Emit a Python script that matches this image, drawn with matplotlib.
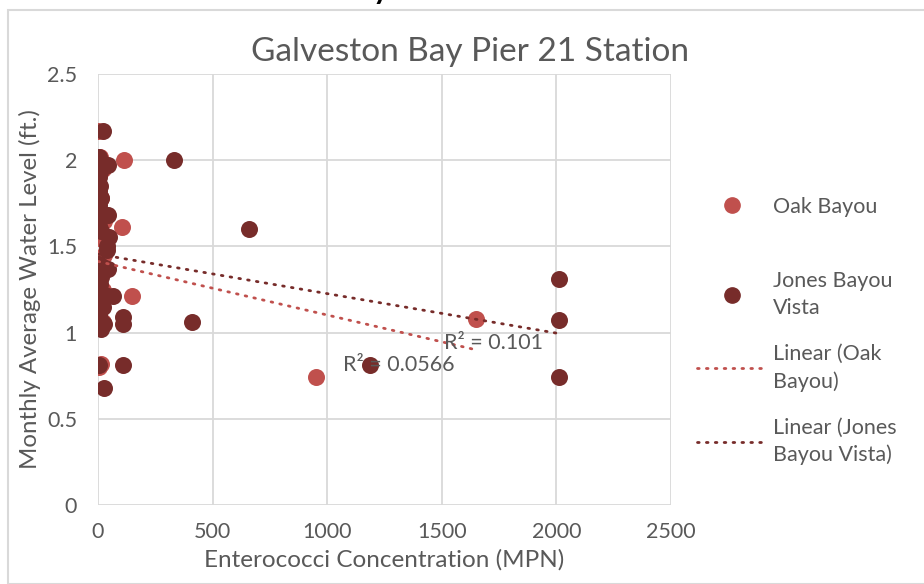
import matplotlib
matplotlib.use("Agg")
import matplotlib.pyplot as plt
from matplotlib.lines import Line2D
from matplotlib.patches import Rectangle
import numpy as np

plt.rcParams['font.family'] = ['Lato', 'DejaVu Sans']

title = "Galveston Bay Pier 21 Station"
x_label = "Enterococci Concentration (MPN)"
y_label = "Monthly Average Water Level (ft.)"
series_names = ["Oak Bayou", "Jones Bayou\nVista"]
trend_names = ["Linear (Oak\nBayou)", "Linear (Jones\nBayou Vista)"]

oak_x = [0, 10, 115, 20, 15, 5, 25, 105, 3, 25, 10, 5, 20, 150, 10, 3, 20, 5, 15, 3, 950, 1650]
oak_y = [2.17, 2.02, 2.00, 1.95, 1.78, 1.68, 1.65, 1.61, 1.55, 1.45, 1.35, 1.30, 1.25, 1.21, 1.17,
         1.08, 1.06, 1.03, 0.82, 0.80, 0.74, 1.08]

jones_x = [22, 5, 45, 10, 5, 8, 3, 12, 5, 10, 45, 3, 15, 48, 38, 40, 5, 20, 45, 3, 15, 8, 5, 30,
           65, 10, 20, 5, 15, 25, 12, 110, 110, 410, 3, 110, 25, 330, 660, 1185, 2010, 2010, 2010]
jones_y = [2.17, 2.02, 1.97, 1.93, 1.90, 1.85, 1.82, 1.78, 1.74, 1.70, 1.68, 1.62, 1.59, 1.555,
           1.50, 1.48, 1.40, 1.38, 1.37, 1.34, 1.32, 1.28, 1.24, 1.22, 1.21, 1.18, 1.15, 1.10,
           1.07, 1.05, 1.02, 1.09, 1.05, 1.06, 0.81, 0.81, 0.68, 2.00, 1.60, 0.81, 1.31, 1.075, 0.74]

# trendline fits (intercept, slope) and R² as shown
oak_fit = (1.413, -0.000311)
jones_fit = (1.455, -0.000229)
oak_r2 = "R² = 0.0566"
jones_r2 = "R² = 0.101"

x_ticks = [0, 500, 1000, 1500, 2000, 2500]
y_ticks = [0, 0.5, 1, 1.5, 2, 2.5]
y_tick_labels = ["0", "0.5", "1", "1.5", "2", "2.5"]

oak_color = "#C0504D"
jones_color = "#772C2A"
text_color = "#595959"
grid_color = "#D9D9D9"

W, H = 924, 584
fig = plt.figure(figsize=(W / 100, H / 100), dpi=100)
ax = fig.add_axes([98 / W, 1 - 505 / H, (671 - 98) / W, (505 - 74) / H])

ax.set_xlim(0, 2500)
ax.set_ylim(0, 2.5)
ax.set_xticks(x_ticks)
ax.set_yticks(y_ticks)
ax.set_xticklabels([str(t) for t in x_ticks])
ax.set_yticklabels(y_tick_labels)
ax.grid(True, color=grid_color, linewidth=1.3)
ax.set_axisbelow(True)
for s in ax.spines.values():
    s.set_visible(False)
ax.tick_params(length=0, labelsize=15.5, labelcolor=text_color)
ax.tick_params(axis='x', pad=12)
ax.tick_params(axis='y', pad=15)

ms = 150
ax.scatter(oak_x, oak_y, s=ms, color=oak_color, linewidths=0, zorder=3, label=series_names[0])
ax.scatter(jones_x, jones_y, s=ms, color=jones_color, linewidths=0, zorder=4, label=series_names[1])

dots = (0, (0.6, 2.6))
ox = np.array([min(oak_x), max(oak_x)])
jx = np.array([min(jones_x), max(jones_x)])
ax.plot(ox, oak_fit[0] + oak_fit[1] * ox, color=oak_color, lw=2.0,
        linestyle=dots, dash_capstyle='round', zorder=5)
ax.plot(jx, jones_fit[0] + jones_fit[1] * jx, color=jones_color, lw=2.0,
        linestyle=dots, dash_capstyle='round', zorder=5)

ax.text(1069, 0.812, oak_r2, fontsize=15.5, color=text_color, va='center', ha='left', zorder=6)
ax.text(1510, 0.94, jones_r2, fontsize=15.5, color=text_color, va='center', ha='left', zorder=6)

ax.set_xlabel(x_label, fontsize=17.5, color=text_color, labelpad=5)
ax.set_ylabel(y_label, fontsize=17.3, color=text_color, labelpad=4)

fig.text(470 / W, 1 - 52 / H, title, fontsize=24, color=text_color, ha='center', va='center')

h_oak = Line2D([], [], marker='o', linestyle='none', markersize=11, color=oak_color)
h_jones = Line2D([], [], marker='o', linestyle='none', markersize=11, color=jones_color)
h_toak = Line2D([], [], color=oak_color, lw=2.0, linestyle=dots, dash_capstyle='round')
h_tjones = Line2D([], [], color=jones_color, lw=2.0, linestyle=dots, dash_capstyle='round')

common = dict(frameon=False, fontsize=15.5, labelcolor=text_color, handlelength=3.25,
              handletextpad=0.28, borderpad=0, borderaxespad=0, loc='center left')
leg1 = fig.legend([h_oak], [series_names[0]], bbox_to_anchor=(697 / W, 1 - 207 / H), **common)
leg2 = fig.legend([h_jones, h_toak, h_tjones], [series_names[1], trend_names[0], trend_names[1]],
                  bbox_to_anchor=(697 / W, 1 - 368 / H), labelspacing=1.2, **common)
for t in leg2.get_texts():
    t.set_linespacing(1.45)

fig.patches.append(Rectangle((8 / W, 0), 1, 1 - 10 / H, transform=fig.transFigure,
                             fill=False, edgecolor=grid_color, linewidth=1.5))
fig.text(381 / W, 1 + 1 / H, "y", fontsize=22, color="black", ha='center', va='baseline',
         fontweight='bold')

fig.savefig("out.png", dpi=100)
